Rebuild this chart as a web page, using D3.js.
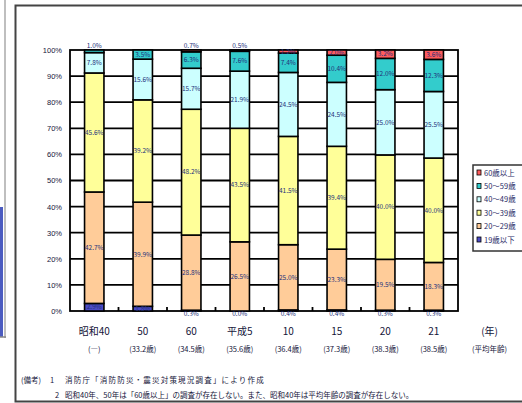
<!DOCTYPE html>
<meta charset="utf-8">
<title>消防団員の年齢構成比率の推移</title>
<style>
body { margin:0; background:#fff; }
svg { display:block; font-family:"Noto Sans CJK JP","Liberation Sans",sans-serif; }
.grid line { stroke:#000; stroke-width:1.8; }
.seg { stroke:#000; stroke-width:1.6; }
.lbl { font-size:6.5px; fill:#23307a; text-anchor:middle; }
</style>
<body>
<svg id="chart" width="522" height="403"></svg>
<script src="https://cdn.jsdelivr.net/npm/d3@7"></script>
<script>
// categories (年) and average age row
var years  = ["昭和40","50","60","平成5","10","15","20","21"];
var avgAge = ["(―)","(33.2歳)","(34.5歳)","(35.6歳)","(36.4歳)","(37.3歳)","(38.3歳)","(38.5歳)"];

// shares in % (bottom -> top); null = no survey
var under20 = [2.9, 1.8, 0.3, 0.0, 0.4, 0.4, 0.3, 0.3];
var age20s  = [42.7, 39.9, 28.8, 26.5, 25.0, 23.3, 19.5, 18.3];
var age30s  = [45.6, 39.2, 48.2, 43.5, 41.5, 39.4, 40.0, 40.0];
var age40s  = [7.8, 15.6, 15.7, 21.9, 24.5, 24.5, 25.0, 25.5];
var age50s  = [1.0, 3.5, 6.3, 7.6, 7.4, 10.4, 12.0, 12.3];
var over60  = [null, null, 0.7, 0.5, 1.2, 2.0, 3.2, 3.6];

var seriesNames = ["19歳以下","20～29歳","30～39歳","40～49歳","50～59歳","60歳以上"];
var colors = ["#4b4bc6","#ffcc99","#ffff99","#ccffff","#33cccc","#ff5c5c"];
var yTicks = [0,10,20,30,40,50,60,70,80,90,100];

var allSeries = [under20, age20s, age30s, age40s, age50s, over60];
var keys = seriesNames;
var table = years.map(function(y, i) {
  var row = {year: y};
  keys.forEach(function(k, j) { row[k] = allSeries[j][i]; });
  return row;
});

var svg = d3.select("#chart");

// neighbour panel edge on the left
svg.append("line").attr("x1",5).attr("x2",5).attr("y1",0).attr("y2",338)
  .attr("stroke","#aaa").attr("stroke-width",1.5);
svg.append("rect").attr("x",0).attr("y",207).attr("width",3).attr("height",130).attr("fill","#4c5cc0");
svg.append("line").attr("x1",0).attr("x2",6).attr("y1",337).attr("y2",337)
  .attr("stroke","#888").attr("stroke-width",1.5);

// outer frame
svg.append("path").attr("d","M522,5.5 H15.5 V401.5 H522")
  .attr("fill","none").attr("stroke","#444").attr("stroke-width",2);

var x = d3.scaleBand().domain(years).range([70,458]).paddingInner(0.6).paddingOuter(0.3);
var y = d3.scaleLinear().domain([0,100]).range([311,50]);

// horizontal grid
svg.append("g").attr("class","grid").selectAll("line")
  .data(yTicks.slice(1,-1)).enter().append("line")
  .attr("x1",70).attr("x2",458)
  .attr("y1",function(d){return y(d);}).attr("y2",function(d){return y(d);});

svg.append("rect").attr("x",70).attr("y",y(100)).attr("width",388).attr("height",y(0)-y(100))
  .attr("fill","none").attr("stroke","#000").attr("stroke-width",1.8);

// y axis labels
var ya = svg.append("g").attr("transform","translate(70,0)")
  .call(d3.axisLeft(y).tickValues(yTicks).tickFormat(function(d){return d+"%";}).tickSize(0).tickPadding(8));
ya.select(".domain").remove();
ya.selectAll("text").attr("font-size",7.5).attr("fill","#15153a").attr("font-family","Liberation Sans, sans-serif");

// small ticks between categories
svg.append("g").selectAll("line").data(years.slice(0,-1)).enter().append("line")
  .attr("x1",function(d){return x(d)+x.bandwidth()/2+x.step()/2;})
  .attr("x2",function(d){return x(d)+x.bandwidth()/2+x.step()/2;})
  .attr("y1",y(0)-4).attr("y2",y(0)).attr("stroke","#000").attr("stroke-width",1.8);

// stacked bars
var stack = d3.stack().keys(keys).value(function(d,k){return d[k] || 0;});
var layers = stack(table);
var fmt = d3.format(".1f");

var lg = svg.append("g").selectAll("g").data(layers).enter().append("g")
  .attr("fill",function(d,i){return colors[i];});

lg.selectAll("rect").data(function(d){return d.filter(function(p){return p.data[d.key] != null;});})
  .enter().append("rect").attr("class","seg")
  .attr("x",function(d){return x(d.data.year);})
  .attr("width",x.bandwidth())
  .attr("y",function(d){return y(d[1]);})
  .attr("height",function(d){return y(d[0])-y(d[1]);});

// value labels
layers.forEach(function(layer, li) {
  layer.forEach(function(p) {
    var v = p.data[layer.key];
    if (v == null) return;
    var top = li === layers.length-1 || (li === 4 && p.data[keys[5]] == null);
    var ly;
    if (li === 0 && v < 1.5) ly = y(0) + 3;
    else if (top && v < 1.1) ly = y(100) - 4;
    else ly = y((p[0]+p[1])/2);
    svg.append("text").attr("class","lbl")
      .attr("x", x(p.data.year)+x.bandwidth()/2)
      .attr("y", ly).attr("dy","0.35em")
      .text(fmt(v)+"%");
  });
});

// category labels
var cx = function(d){return x(d)+x.bandwidth()/2;};
svg.append("g").selectAll("text").data(years).enter().append("text")
  .attr("x",cx).attr("y",335).attr("text-anchor","middle")
  .attr("font-size",10).attr("fill","#15153a").text(function(d){return d;});
svg.append("g").selectAll("text").data(avgAge).enter().append("text")
  .attr("x",function(d,i){return cx(years[i]);}).attr("y",352).attr("text-anchor","middle")
  .attr("font-size",7.5).attr("fill","#15153a").text(function(d){return d;});
var unitX = cx(years[years.length-1]) + x.step()*1.15;
svg.append("text").attr("x",unitX).attr("y",335).attr("text-anchor","middle")
  .attr("font-size",10).attr("fill","#15153a").text("(年)");
svg.append("text").attr("x",unitX).attr("y",352).attr("text-anchor","middle")
  .attr("font-size",7.5).attr("fill","#15153a").text("(平均年齢)");

// legend
var leg = svg.append("g").attr("transform","translate(473,165)");
leg.append("rect").attr("width",60).attr("height",86).attr("fill","#fff")
  .attr("stroke","#333").attr("stroke-width",1.5);
var li = leg.selectAll("g").data(seriesNames.slice().reverse()).enter().append("g")
  .attr("transform",function(d,i){return "translate(4,"+(8+i*13.4)+")";});
li.append("rect").attr("x",0).attr("y",-3).attr("width",4).attr("height",5)
  .attr("stroke","#000").attr("stroke-width",0.8)
  .attr("fill",function(d){return colors[seriesNames.indexOf(d)];});
li.append("text").attr("x",7).attr("dy","0.35em").attr("font-size",7.5)
  .attr("fill","#2a2a66").text(function(d){return d;});

// notes
var notes = svg.append("g").attr("font-size",7.5).attr("fill","#15153a");
notes.append("text").attr("x",21).attr("y",383).text("(備考)");
notes.append("text").attr("x",50).attr("y",383).text("1");
notes.append("text").attr("x",65).attr("y",383).attr("letter-spacing",1.2)
  .text("消防庁「消防防災・震災対策現況調査」により作成");
notes.append("text").attr("x",55).attr("y",398).text("2");
notes.append("text").attr("x",65).attr("y",398)
  .text("昭和40年、50年は「60歳以上」の調査が存在しない。また、昭和40年は平均年齢の調査が存在しない。");
</script>
</body>
